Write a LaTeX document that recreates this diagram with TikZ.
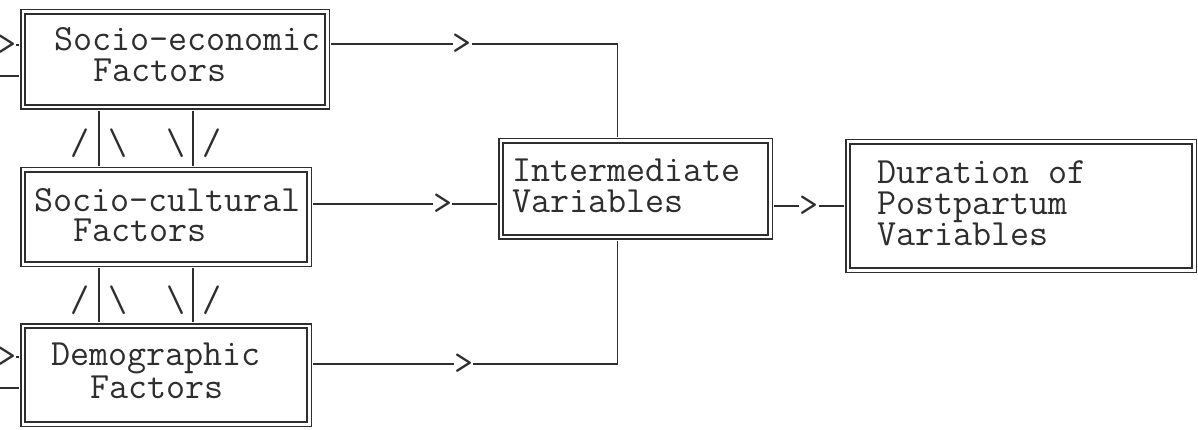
\documentclass[tikz,border=0pt]{standalone}
\usepackage{fontspec}
\usepackage{tikz}
\definecolor{ink}{HTML}{2E2E2E}
\newcommand{\tyfont}{\ttfamily\fontsize{37}{31}\selectfont\addfontfeature{FakeBold = 0.6}}
\tikzset{
  dbox/.style = {draw = ink, double, double distance = 2.4pt, line width = 1.8pt, inner sep = 0},
  txt/.style = {font = \tyfont, text = ink, align = left, inner sep = 0, anchor = base west},
  glyph/.style = {font = \tyfont, text = ink, inner sep = 0},
  chev/.style = {glyph, fill = white},
  link/.style = {draw = ink, line width = 1.6pt, shorten <= 3pt, shorten >= 3pt}
}

\begin{document}
\begin{tikzpicture}[x = 1pt, y = -1pt]
  \useasboundingbox (0, 0) rectangle (1198, 430);
  \node[dbox, minimum width = 304.6pt, minimum height = 95.6pt] at (175, 59.5) (econ) {};
  \node[dbox, minimum width = 286.6pt, minimum height = 94.6pt] at (166, 217) (cult) {};
  \node[dbox, minimum width = 286.6pt, minimum height = 98.6pt] at (166, 375) (demo) {};
  \node[dbox, minimum width = 269.6pt, minimum height = 96.6pt] at (635.5, 189) (inter) {};
  \node[dbox, minimum width = 346.6pt, minimum height = 128.6pt] at (1021, 206) (dur) {};
  % base of the last line
  \node[txt] at (54, 82) (econ-t) {Socio-economic\\\hspace*{1.05em}Factors};
  \node[txt] at (34, 242) (cult-t) {Socio-cultural\\\hspace*{1.05em}Factors};
  \node[txt] at (51, 398) (demo-t) {Demographic\\\hspace*{1.05em}Factors};
  \node[txt] at (512, 213) (inter-t) {Intermediate\\Variables};
  \node[txt] at (877, 245) (dur-t) {Duration of\\Postpartum\\Variables};
  \coordinate (r1) at (0, 44);
  \coordinate (r2) at (0, 204);
  \coordinate (r3) at (0, 364);
  \coordinate (colA) at (99, 0);
  \coordinate (colB) at (193, 0);
  \coordinate (inE) at (0, 45);
  \coordinate (outE) at (0, 76);
  \coordinate (inD) at (0, 357);
  \coordinate (outD) at (0, 388);
  \draw[link, shorten <= 0pt] (inE) -- node[chev, pos = .3] (gE) {>} (econ.west |- inE);
  \draw[link, shorten <= 0pt] (outE) -- (econ.west |- outE);
  \draw[link, shorten <= 0pt] (inD) -- node[chev, pos = .3] (gD) {>} (demo.west |- inD);
  \draw[link, shorten <= 0pt] (outD) -- (demo.west |- outD);
  \foreach \a/\b in {econ/cult, cult/demo}
  {
  \draw[link] (\a.south -| colA) -- node[glyph, xshift = -19pt, yshift = -5pt] (\a-s1) {/}
    node[glyph, xshift = 19pt, yshift = -5pt] (\a-s2) {\textbackslash} (\b.north -| colA);
  \draw[link] (\a.south -| colB) -- node[glyph, xshift = -17pt, yshift = -5pt] (\a-s3) {\textbackslash}
    node[glyph, xshift = 19pt, yshift = -5pt] (\a-s4) {/} (\b.north -| colB);
  }
  \draw[link] (econ.east |- r1) -| node[chev, pos = .232] (g1) {>} ([xshift = -18pt]inter.north);
  \draw[link] (cult.east |- r2) -- node[chev, pos = .7] (g2) {>} (inter.west |- r2);
  \draw[link] (demo.east |- r3) -| node[chev, pos = .25] (g3) {>} ([xshift = -18pt]inter.south);
  \draw[link] (inter.east |- dur.west) -- node[chev] (g4) {>} (dur.west);
\end{tikzpicture}
\end{document}
